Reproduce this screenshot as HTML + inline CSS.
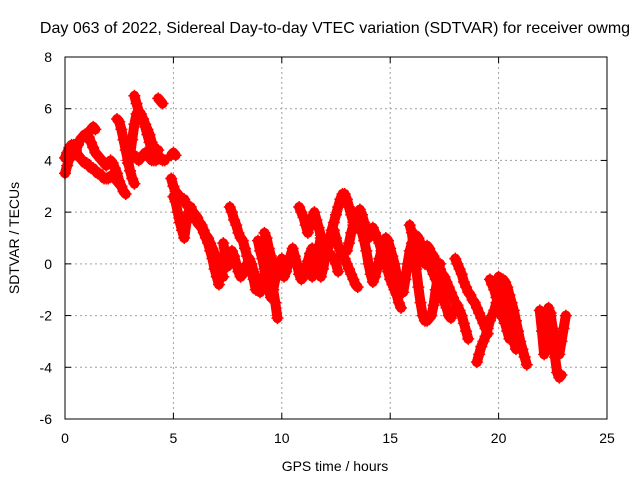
<!DOCTYPE html>
<html><head><meta charset="utf-8"><style>
body{margin:0;background:#fff}
svg{display:block;font-family:"Liberation Sans",sans-serif}
</style></head><body>
<svg id="chart" width="640" height="480">
<rect width="640" height="480" fill="#fff"/>
<text x="335" y="33" font-size="16" text-anchor="middle">Day 063 of 2022, Sidereal Day-to-day VTEC variation (SDTVAR) for receiver owmg</text>
<text x="335" y="471" font-size="14" text-anchor="middle">GPS time / hours</text>
<text x="0" y="0" font-size="14" text-anchor="middle" transform="translate(19,238) rotate(-90)">SDTVAR / TECUs</text>
<g id="grid"></g><g id="axes"></g><g id="marks"></g>
<rect x="65" y="57" width="542" height="362" fill="none" stroke="#000" stroke-width="1"/>
</svg>
<script>
const xTicks=[0,5,10,15,20,25];
const yTicks=[-6,-4,-2,0,2,4,6,8];
const step=0.1;
const trackStart=[0,0,1.1,2.4,2.9,3.0,3.2,4.3,4.9,4.9,5.0,7.3,7.6,8.9,9.2,9.9,10.8,11.4,13.0,13.6,15.9,16.2,16.7,18.0,19.0,19.6,20.0,21.9,22.3];
const trackValues=[
[3.5,3.8,4.1,4.3,4.2,4.4,4.6,4.8,4.9,5.0,5.0,5.1,5.2,5.3,5.2],
[4.1,4.3,4.5,4.6,4.6,4.4,4.2,4.1,4.0,3.9,3.9,3.8,3.7,3.7,3.6,3.5,3.5,3.4,3.3,3.3,3.3,3.4,3.4,3.3,3.2,3.1,3.0],
[4.9,4.7,4.5,4.3,4.2,4.1,4.0,3.9,3.8,3.9,4.0,3.9,3.7,3.5,3.2,3.0,2.8,2.7],
[5.6,5.5,5.2,4.8,4.4,4.0,3.6,3.3,3.1],
[3.9,4.2,4.8,5.4,5.8,5.9,5.8,5.6,5.3,5.0,4.7,4.4,4.2,4.0],
[4.3,4.2,4.2,4.1,4.0,4.1,4.2,4.3,4.2,4.1,4.0,4.0,4.1,4.2,4.1,4.0,4.0],
[6.5,6.2,5.9,5.7,5.6,5.4,5.2,5.0,4.7,4.5,4.3,4.4],
[6.4,6.3,6.2],
[4.2,4.3,4.2],
[3.3,3.0,2.8,2.7,2.6,2.5,2.5,2.3,2.2,2.1,2.0,1.9,1.8,1.6,1.5,1.3,1.1,1.0,0.8,0.6,0.4,0.2,0.0,-0.3,-0.5],
[2.6,2.4,2.0,1.6,1.3,1.0,1.6,2.0,2.2,2.0,1.8,1.6,1.5,1.4,1.2,1.0,0.8,0.5,0.2,-0.2,-0.5,-0.8],
[0.8,0.3,-0.1,0.2,0.5,0.3,0.0,-0.3,-0.5,-0.4,-0.2,0.0,0.2,0.0,-0.3,-0.6,-0.9,-1.1,-0.8,-0.4,-0.1,0.0,-0.3,-1.0,-1.5,-2.1],
[2.2,2.0,1.7,1.5,1.2,1.0,0.9,0.6,0.3,0.0,-0.3,-0.6,-1.0],
[0.9,0.5,0.2,-0.2,-0.6,-1.0,-1.3,-1.0,-0.6,-0.2,0.0,0.2],
[1.2,1.0,0.6,0.3,0.0,-0.3],
[-0.2,-0.4,-0.5,-0.3,0.0,0.3,0.6,0.3,0.0,-0.4,-0.6,-0.5,-0.2,0.1,0.4,0.6,0.3,0.0,-0.3,-0.5,-0.2,0.2,0.5,0.9,1.3,1.6,1.9,2.2,2.5,2.7,2.7,2.5,2.2,1.9,1.6],
[2.2,2.0,1.8,1.5,1.2,1.5,1.8,2.0,1.7,1.4,1.1,0.9,0.7,0.6,0.8,1.1,1.3,1.0,0.7,0.5,0.3,0.2,0.0,-0.2,-0.4,-0.6,-0.8,-0.9],
[-0.5,-0.2,0.2,0.6,1.0,0.9,0.7,0.5,0.4,0.3,0.2,0.0,-0.3],
[0.5,0.8,1.2,1.5,1.8,2.0,2.1,1.9,1.6,1.3,1.0,1.2,1.4,1.2,1.0,0.8,0.5,0.2,0.0,-0.3,-0.6,-0.8,-1.0,-1.2,-1.5,-1.7],
[1.5,1.2,0.9,0.5,0.0,-0.4,-0.7,-0.5,-0.2,0.2,0.5,0.8,1.0,0.9,0.6,0.3,0.0,-0.4,-0.8,-1.0,-1.1,-0.6,0.0,0.5,0.8,1.0,1.1,1.0,0.8,0.5,0.0],
[1.5,1.2,0.5,-0.2,-0.9,-1.5,-2.0,-2.2,-2.2,-2.1,-2.0,-1.6,-1.0,-0.5,0.0],
[1.0,0.8,0.6,0.5,0.4,0.2,0.0,-0.2,-0.4,-0.6,-0.8,-1.0,-1.2,-1.5,-1.7,-2.0,-2.1,-1.8],
[0.7,0.6,0.4,0.3,0.1,0.0,-0.2,-0.4,-0.5,-0.7,-0.9,-1.1,-1.3,-1.5,-1.6,-1.8,-2.0,-2.3,-2.6,-2.9],
[0.2,0.0,-0.2,-0.4,-0.7,-0.9,-1.1,-1.2,-1.4,-1.5,-1.7,-1.9,-2.1,-2.3,-2.5,-2.7],
[-3.8,-3.5,-3.2,-3.0,-2.8,-2.5,-2.2,-2.0,-1.8,-1.5,-1.2,-0.8,-0.6,-0.7,-0.9,-1.2,-1.5,-1.8,-2.2,-2.6,-3.0,-3.3,-3.6,-3.9],
[-0.6,-0.8,-1.0,-1.3,-1.6,-1.9,-2.1,-2.3,-2.6,-2.9],
[-0.5,-0.7,-1.0,-1.4,-1.8,-2.2,-2.6,-3.0,-3.3],
[-1.8,-2.6,-3.5,-3.2,-2.3,-1.9,-2.8,-3.6,-4.2,-4.4,-4.3],
[-1.7,-2.0,-2.5,-3.0,-3.3,-3.5,-3.0,-2.5,-2.0]
];
const NS='http://www.w3.org/2000/svg';
const X0=65,X1=607,Y0=419,Y1=57;
function xs(t){return X0+(t-0)/(25-0)*(X1-X0);}
function ys(v){return Y0-(v-(-6))/(8-(-6))*(Y0-Y1);}
function mk(tag,attrs,parent){const e=document.createElementNS(NS,tag);for(const k in attrs)e.setAttribute(k,attrs[k]);parent.appendChild(e);return e;}
const grid=document.getElementById('grid'),axes=document.getElementById('axes'),marks=document.getElementById('marks');
xTicks.forEach(t=>{
  const x=xs(t);
  if(t>0&&t<25){const g=mk('line',{x1:x,x2:x,y1:Y1,y2:Y0,stroke:'#a0a0a0','stroke-dasharray':'2,3'},grid);
  
  }
  mk('line',{x1:x,x2:x,y1:Y0,y2:Y0-6,stroke:'#000'},axes);
  mk('line',{x1:x,x2:x,y1:Y1,y2:Y1+6,stroke:'#000'},axes);
  const l=mk('text',{x:x,y:Y0+24,'font-size':14,'text-anchor':'middle'},axes);
  l.textContent=t;
  
  
});
yTicks.forEach(v=>{
  const y=ys(v);
  if(v>-6&&v<8){const g=mk('line',{x1:X0,x2:X1,y1:y,y2:y,stroke:'#a0a0a0','stroke-dasharray':'2,3'},grid);
  
  }
  mk('line',{x1:X0,x2:X0+6,y1:y,y2:y,stroke:'#000'},axes);
  mk('line',{x1:X1,x2:X1-6,y1:y,y2:y,stroke:'#000'},axes);
  const l=mk('text',{x:X0-13,y:y+5,'font-size':14,'text-anchor':'end'},axes);
  l.textContent=v;
  
  
});
trackValues.forEach((vals,i)=>{
  const pts=vals.map((v,j)=>[xs(trackStart[i]+j*step),ys(v)]);
  const pl=mk('polyline',{points:pts.map(p=>p.join(',')).join(' '),fill:'none',stroke:'#ff0000','stroke-width':10,'stroke-linejoin':'round','stroke-linecap':'round'},marks);
  
  
  pts.forEach(p=>{
    const m=mk('path',{d:`M${p[0]-6},${p[1]}h12M${p[0]},${p[1]-6}v12`,stroke:'#ff0000','stroke-width':1.5},marks);
    
    
  });
});
</script>
</body></html>
